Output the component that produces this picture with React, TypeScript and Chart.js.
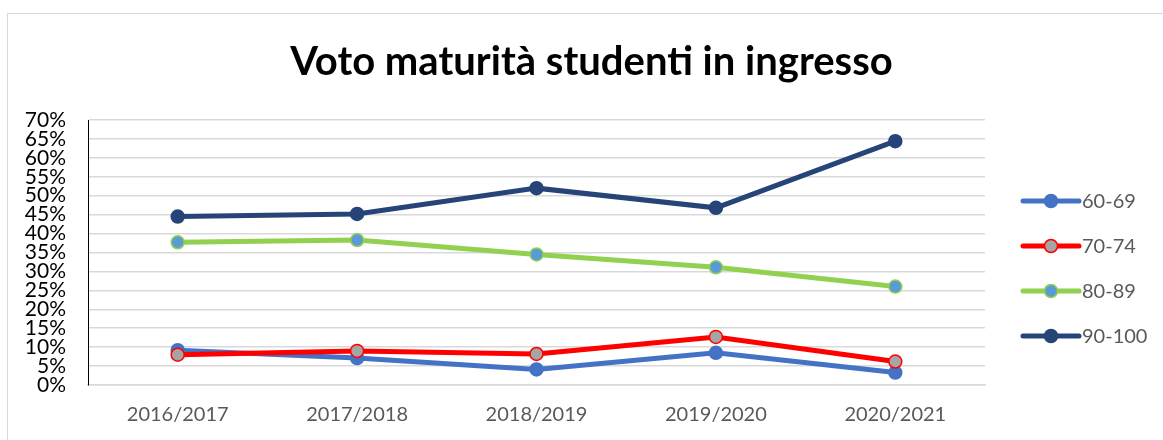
import React, { useEffect, useRef } from "react";
import { Chart, registerables } from "chart.js";

Chart.register(...registerables);

const titleText = "Voto maturità studenti in ingresso";
const categories = ["2016/2017", "2017/2018", "2018/2019", "2019/2020", "2020/2021"];
const seriesLabels = ["60-69", "70-74", "80-89", "90-100"];
const values6069 = [9.2, 7.1, 4.1, 8.5, 3.3];
const values7074 = [8.0, 9.0, 8.2, 12.7, 6.2];
const values8089 = [37.7, 38.3, 34.5, 31.1, 26.0];
const values90100 = [44.5, 45.2, 52.0, 46.8, 64.4];
const yMin = 0;
const yMax = 70;
const yStep = 5;

const lineColors = ["#4472C4", "#FF0000", "#92D050", "#264478"];
const pointFills = ["#4472C4", "#A5A5A5", "#5B9BD5", "#264478"];

const FONT = "Lato, 'Open Sans', sans-serif";

const titleDraw = {
  id: "titleDraw",
  afterDraw(chart: any) {
    const ctx = chart.ctx as CanvasRenderingContext2D;
    ctx.save();
    ctx.fillStyle = "#000000";
    ctx.font = `bold 40px ${FONT}`;
    ctx.textAlign = "center";
    ctx.textBaseline = "alphabetic";
    ctx.fillText(titleText, chart.width / 2 + 10, 75);
    ctx.restore();
  },
};

const sideLegend = {
  id: "sideLegend",
  afterDraw(chart: any) {
    const ctx = chart.ctx as CanvasRenderingContext2D;
    const area = chart.chartArea;
    const x0 = area.right + 38;
    const lineLen = 56;
    const startY = area.top + 81;
    const gap = 45;
    ctx.save();
    chart.data.datasets.forEach((ds: any, i: number) => {
      const y = startY + i * gap;
      ctx.strokeStyle = ds.borderColor;
      ctx.lineWidth = ds.borderWidth;
      ctx.lineCap = "round";
      ctx.beginPath();
      ctx.moveTo(x0, y);
      ctx.lineTo(x0 + lineLen, y);
      ctx.stroke();
      ctx.beginPath();
      ctx.arc(x0 + lineLen / 2, y, ds.pointRadius, 0, Math.PI * 2);
      ctx.fillStyle = ds.pointBackgroundColor;
      ctx.fill();
      ctx.lineWidth = ds.pointBorderWidth;
      ctx.strokeStyle = ds.pointBorderColor;
      ctx.stroke();
      ctx.fillStyle = "#595959";
      ctx.font = `20px ${FONT}`;
      ctx.textAlign = "left";
      ctx.textBaseline = "middle";
      ctx.fillText(ds.label, x0 + lineLen + 3, y + 1);
    });
    ctx.restore();
  },
};

export default function App() {
  const canvasRef = useRef<HTMLCanvasElement | null>(null);

  useEffect(() => {
    if (!canvasRef.current) return;
    const seriesValues = [values6069, values7074, values8089, values90100];
    const chart = new Chart(canvasRef.current, {
      type: "line",
      data: {
        labels: categories,
        datasets: seriesLabels.map((label, i) => ({
          label,
          data: seriesValues[i],
          borderColor: lineColors[i],
          backgroundColor: lineColors[i],
          borderWidth: 5,
          pointRadius: 6.5,
          pointHoverRadius: 6.5,
          pointBackgroundColor: pointFills[i],
          pointBorderColor: lineColors[i],
          pointBorderWidth: 1.5,
          tension: 0,
          fill: false,
          order: seriesLabels.length - i,
        })),
      },
      options: {
        animation: false,
        responsive: false,
        maintainAspectRatio: false,
        layout: { padding: { left: 0, right: 178, top: 120, bottom: 0 } },
        plugins: {
          legend: { display: false },
          tooltip: { enabled: false },
          title: { display: false },
        },
        scales: {
          x: {
            offset: true,
            grid: { display: false, drawTicks: false },
            border: { display: true, color: "#D9D9D9", width: 1.5 },
            ticks: {
              color: "#595959",
              font: { family: FONT, size: 20 },
              padding: 18,
              maxRotation: 0,
            },
            afterFit: (s: any) => {
              s.height = 55;
            },
          },
          y: {
            min: yMin,
            max: yMax,
            grid: { color: "#D9D9D9", lineWidth: 1.5, drawTicks: false },
            border: { display: true, color: "#000000", width: 1 },
            ticks: {
              stepSize: yStep,
              autoSkip: false,
              color: "#000000",
              font: { family: FONT, size: 21 },
              padding: 22,
              callback: (v: any) => `${v}%`,
            },
            afterFit: (s: any) => {
              s.width = 88;
            },
          },
        },
      },
      plugins: [titleDraw, sideLegend],
    });
    return () => chart.destroy();
  }, []);

  return (
    <div
      style={{
        position: "absolute",
        left: 0,
        top: 0,
        width: 1163,
        height: 440,
        overflow: "hidden",
        background: "#ffffff",
      }}
    >
      <div
        style={{
          position: "absolute",
          left: 7,
          top: 13,
          width: 1156,
          height: 427,
          borderLeft: "1px solid #D9D9D9",
          borderTop: "1px solid #D9D9D9",
        }}
      />
      <canvas
        ref={canvasRef}
        width={1163}
        height={440}
        style={{ position: "absolute", left: 0, top: 0, width: 1163, height: 440 }}
      />
    </div>
  );
}
